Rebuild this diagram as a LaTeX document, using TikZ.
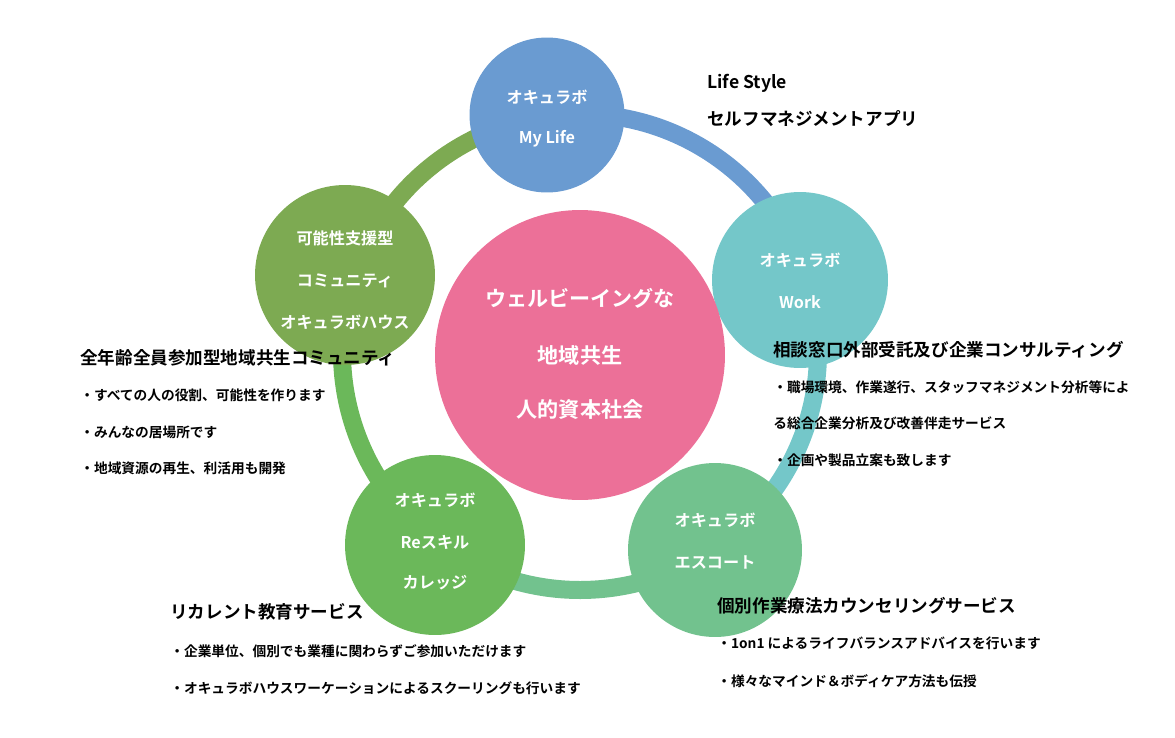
\documentclass[tikz,border=0pt]{standalone}
\usepackage{fontspec}
\setmainfont{Noto Sans CJK JP}[BoldFont={Noto Sans CJK JP Bold}]
\definecolor{cblue}{HTML}{6A9BD1}
\definecolor{cteal}{HTML}{74C7C9}
\definecolor{cesc}{HTML}{72C28E}
\definecolor{cres}{HTML}{6BB85A}
\definecolor{ccom}{HTML}{7DAA52}
\definecolor{cpink}{HTML}{EC7098}
\begin{document}
\begin{tikzpicture}[x=0.02cm,y=-0.02cm,
  ring/.style={line width=0.36cm},
  ball/.style={circle,inner sep=0pt},
  wtxt/.style={text=white,font=\bfseries\fontsize{9.2}{11}\selectfont,inner sep=0pt},
  ctxt/.style={text=white,font=\bfseries\fontsize{12}{14}\selectfont,inner sep=0pt},
  head/.style={anchor=west,inner sep=0pt,font=\bfseries\fontsize{10}{12}\selectfont},
  bul/.style={anchor=west,inner sep=0pt,font=\bfseries\fontsize{7.8}{10}\selectfont}]
\useasboundingbox (0,0) rectangle (1175,737);
\begin{scope}[shift={(580,352)},x=0.02cm,y=0.02cm]
\draw[ring,cblue] (98:238) arc[start angle=98,end angle=19,radius=238];
\draw[ring,cteal] (19:238) arc[start angle=19,end angle=-55,radius=238];
\draw[ring,cesc] (-55:238) arc[start angle=-55,end angle=-127,radius=238];
\draw[ring,cres] (233:238) arc[start angle=233,end angle=162,radius=238];
\draw[ring,ccom] (162:238) arc[start angle=162,end angle=98,radius=238];
\end{scope}
\node[ball,fill=cblue,minimum size=3.1cm] (top) at (547,115) {};
\node[ball,fill=cteal,minimum size=3.52cm] (work) at (800,280) {};
\node[ball,fill=cesc,minimum size=3.48cm] (esc) at (715,550) {};
\node[ball,fill=cres,minimum size=3.6cm] (res) at (435,545) {};
\node[ball,fill=ccom,minimum size=3.6cm] (com) at (345,275) {};
\node[ball,fill=cpink,minimum size=5.8cm] (mid) at (580,355) {};
\node[ctxt] (m1) at (580,298) {ウェルビーイングな};
\node[ctxt] (m2) at (580,355) {地域共生};
\node[ctxt] (m3) at (580,410) {人的資本社会};
\node[wtxt] (t1) at (547,97) {オキュラボ};
\node[wtxt] (t2) at (547,139) {My Life};
\node[wtxt] (w1) at (800,260) {オキュラボ};
\node[wtxt] (w2) at (800,302) {Work};
\node[wtxt] (e1) at (715,520) {オキュラボ};
\node[wtxt] (e2) at (715,562) {エスコート};
\node[wtxt] (r1) at (435,500) {オキュラボ};
\node[wtxt] (r2) at (435,542) {Reスキル};
\node[wtxt] (r3) at (435,583) {カレッジ};
\node[wtxt] (k1) at (345,238) {可能性支援型};
\node[wtxt] (k2) at (345,281) {コミュニティ};
\node[wtxt] (k3) at (345,322) {オキュラボハウス};
\node[head] (a1) at (707,83) {Life Style};
\node[head] (a2) at (707,119) {セルフマネジメントアプリ};
\node[head] (b1) at (80,358) {全年齢全員参加型地域共生コミュニティ};
\node[bul] (b2) at (80,395) {・すべての人の役割、可能性を作ります};
\node[bul] (b3) at (80,432) {・みんなの居場所です};
\node[bul] (b4) at (80,468) {・地域資源の再生、利活用も開発};
\node[head] (d1) at (773,350) {相談窓口外部受託及び企業コンサルティング};
\node[bul] (d2) at (773,387) {・職場環境、作業遂行、スタッフマネジメント分析等によ};
\node[bul] (d3) at (773,423) {る総合企業分析及び改善伴走サービス};
\node[bul] (d4) at (773,460) {・企画や製品立案も致します};
\node[head] (f1) at (170,612) {リカレント教育サービス};
\node[bul] (f2) at (170,651) {・企業単位、個別でも業種に関わらずご参加いただけます};
\node[bul] (f3) at (170,688) {・オキュラボハウスワーケーションによるスクーリングも行います};
\node[head] (g1) at (717,606) {個別作業療法カウンセリングサービス};
\node[bul] (g2) at (717,643) {・1on1 によるライフバランスアドバイスを行います};
\node[bul] (g3) at (717,681) {・様々なマインド＆ボディケア方法も伝授};
\end{tikzpicture}
\end{document}
